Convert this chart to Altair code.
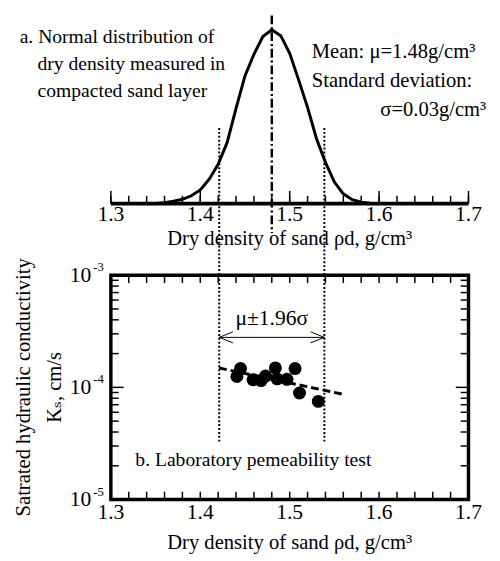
import altair as alt
import pandas as pd

FONT = "Liberation Serif, Times New Roman, Tinos, DejaVu Serif, serif"

# ---- data ----
rho_grid = [1.34, 1.35, 1.36, 1.37, 1.38, 1.39, 1.40, 1.41, 1.42, 1.43, 1.44, 1.45, 1.46,
            1.47, 1.48, 1.49, 1.50, 1.51, 1.52, 1.53, 1.54, 1.55, 1.56, 1.57, 1.58, 1.59, 1.60]
pdf_vals = [0.0, 0.02, 0.06, 0.16, 0.29, 0.52, 0.91, 1.62, 2.6, 4.03, 6.3, 8.44, 9.87,
            11.04, 11.49, 11.1, 9.94, 8.18, 6.36, 4.29, 2.73, 1.43, 0.65, 0.26, 0.1, 0.03, 0.0]

mu = 1.48
ci_lo = 1.4212
ci_hi = 1.5388

lab_rho = [1.445, 1.441, 1.459, 1.468, 1.473, 1.484, 1.486, 1.497, 1.506, 1.511, 1.532]
lab_ks = [1.47e-4, 1.25e-4, 1.17e-4, 1.15e-4, 1.26e-4, 1.49e-4, 1.19e-4, 1.18e-4, 1.47e-4, 0.89e-4, 0.75e-4]

trend_rho = [1.421, 1.559]
trend_ks = [1.49e-4, 0.87e-4]

x_major = [1.3, 1.4, 1.5, 1.6, 1.7]
x_labels = ["1.3", "1.4", "1.5", "1.6", "1.7"]
x_minor = [1.30, 1.32, 1.34, 1.36, 1.38, 1.40, 1.42, 1.44, 1.46, 1.48, 1.50,
           1.52, 1.54, 1.56, 1.58, 1.60, 1.62, 1.64, 1.66, 1.68, 1.70]
y_major = [1e-5, 1e-4, 1e-3]
y_label_base = ["10", "10", "10"]
y_label_exp = ["-5", "-4", "-3"]
y_minor = [2e-5, 3e-5, 4e-5, 5e-5, 6e-5, 7e-5, 8e-5, 9e-5,
           2e-4, 3e-4, 4e-4, 5e-4, 6e-4, 7e-4, 8e-4, 9e-4]

X_TITLE = "Dry density of sand ρd, g/cm³"
Y_TITLE = ["Satrated hydraulic conductivity", "Kₛ, cm/s"]

# ---- layout ----
W = 365
H1 = 192
H2 = 229
YTOP = 12.43
X0, X1 = 1.3, 1.7
L0, L1 = -5.0, -3.0  # log10 of the K axis range

xs = alt.Scale(domain=[X0, X1], nice=False, zero=False)
ys1 = alt.Scale(domain=[0, YTOP], nice=False, zero=False)
ys2 = alt.Scale(type="log", domain=[10 ** L0, 10 ** L1], nice=False)

NOAX = None


def px_to_x(px):
    return px * (X1 - X0) / W


def top_y(px):
    return px * YTOP / H1


def log_y(px):
    return px * (L1 - L0) / H2


def xtick_layer(values, yscale, ya, yb, width=1.5):
    n = len(values)
    df = pd.DataFrame({"tv": values, "ta": [ya] * n, "tb": [yb] * n})
    return alt.Chart(df).mark_rule(color="black", strokeWidth=width).encode(
        x=alt.X("tv:Q", scale=xs, axis=NOAX),
        y=alt.Y("ta:Q", scale=yscale, axis=NOAX),
        y2="tb:Q",
    )


def ytick_layer(values, xa, xb, width=1.5):
    n = len(values)
    df = pd.DataFrame({"tv": values, "ta": [xa] * n, "tb": [xb] * n})
    return alt.Chart(df).mark_rule(color="black", strokeWidth=width).encode(
        y=alt.Y("tv:Q", scale=ys2, axis=NOAX),
        x=alt.X("ta:Q", scale=xs, axis=NOAX),
        x2="tb:Q",
    )


def xlabels(y_px):
    return alt.Chart(pd.DataFrame({"v": x_major, "t": x_labels})).mark_text(
        font=FONT, fontSize=22, align="center", baseline="alphabetic", color="black"
    ).encode(x=alt.X("v:Q", scale=xs, axis=NOAX), y=alt.value(y_px), text="t:N")


def xtitle(y_px):
    return alt.Chart(pd.DataFrame({"t": [X_TITLE]})).mark_text(
        font=FONT, fontSize=21, align="center", baseline="alphabetic", color="black"
    ).encode(x=alt.value(W / 2), y=alt.value(y_px), text="t:N")


# ---------------- top panel ----------------
df_curve = pd.DataFrame({"rho": rho_grid, "pdf": pdf_vals})

curve = alt.Chart(df_curve).mark_line(color="black", strokeWidth=3).encode(
    x=alt.X("rho:Q", scale=xs, axis=NOAX),
    y=alt.Y("pdf:Q", scale=ys1, axis=NOAX),
)

baseline = alt.Chart(pd.DataFrame({"x": [X0], "x2": [X1], "y": [0.0]})).mark_rule(
    color="black", strokeWidth=4
).encode(
    x=alt.X("x:Q", scale=xs, axis=NOAX), x2="x2:Q",
    y=alt.Y("y:Q", scale=ys1, axis=NOAX),
)

mean_rule = alt.Chart(pd.DataFrame({"x": [mu], "y": [YTOP], "y2": [-top_y(30)]})).mark_rule(
    color="black", strokeWidth=2.5, strokeDash=[9, 3, 2, 3]
).encode(
    x=alt.X("x:Q", scale=xs, axis=NOAX),
    y=alt.Y("y:Q", scale=ys1, axis=NOAX),
    y2="y2:Q",
)

ci_top = alt.Chart(pd.DataFrame({"x": [ci_lo, ci_hi], "y": [5.0, 5.0], "y2": [-top_y(73), -top_y(73)]})).mark_rule(
    color="black", strokeWidth=2, strokeDash=[2, 2]
).encode(
    x=alt.X("x:Q", scale=xs, axis=NOAX),
    y=alt.Y("y:Q", scale=ys1, axis=NOAX),
    y2="y2:Q",
)

left_text = pd.DataFrame({
    "t": ["a. Normal distribution of", "dry density measured in", "compacted sand layer"],
    "x": [1.198, 1.218, 1.218],
    "y": [11.01, 9.197, 7.448],
})
right_text = pd.DataFrame({
    "t": ["Mean: μ=1.48g/cm³", "Standard deviation:", "σ=0.03g/cm³"],
    "x": [1.5247, 1.5247, 1.6014],
    "y": [10.04, 8.096, 6.153],
})
left_labels = alt.Chart(left_text).mark_text(
    font=FONT, fontSize=20, align="left", baseline="middle", color="black"
).encode(
    x=alt.X("x:Q", scale=xs, axis=NOAX),
    y=alt.Y("y:Q", scale=ys1, axis=NOAX),
    text="t:N",
)
right_labels = alt.Chart(right_text).mark_text(
    font=FONT, fontSize=21, align="left", baseline="middle", color="black"
).encode(
    x=alt.X("x:Q", scale=xs, axis=NOAX),
    y=alt.Y("y:Q", scale=ys1, axis=NOAX),
    text="t:N",
)

top = alt.layer(
    curve, baseline, mean_rule, ci_top, left_labels, right_labels,
    xlabels(H1 + 18), xtitle(H1 + 42),
    xtick_layer(x_minor, ys1, 0.0, top_y(8)),
    xtick_layer(x_major, ys1, 0.0, top_y(13)),
).properties(width=W, height=H1)

# ---------------- bottom panel ----------------
df_lab = pd.DataFrame({"rho": lab_rho, "ks": lab_ks})
pts = alt.Chart(df_lab).mark_circle(color="black", size=175, opacity=1).encode(
    x=alt.X("rho:Q", scale=xs, axis=NOAX),
    y=alt.Y("ks:Q", scale=ys2, axis=NOAX),
)

df_trend = pd.DataFrame({"rho": trend_rho, "ks": trend_ks})
trend = alt.Chart(df_trend).mark_line(color="black", strokeWidth=3, strokeDash=[8, 4]).encode(
    x=alt.X("rho:Q", scale=xs, axis=NOAX),
    y=alt.Y("ks:Q", scale=ys2, axis=NOAX),
)

ci_bot = alt.Chart(pd.DataFrame({"x": [ci_lo, ci_hi], "y": [1e-3, 1e-3], "y2": [3.3e-5, 3.3e-5]})).mark_rule(
    color="black", strokeWidth=2, strokeDash=[2, 2]
).encode(
    x=alt.X("x:Q", scale=xs, axis=NOAX),
    y=alt.Y("y:Q", scale=ys2, axis=NOAX),
    y2="y2:Q",
)

ARROW_Y = 2.79e-4
arrow_line = alt.Chart(pd.DataFrame({"x": [ci_lo], "x2": [ci_hi], "y": [ARROW_Y]})).mark_rule(
    color="black", strokeWidth=1
).encode(
    x=alt.X("x:Q", scale=xs, axis=NOAX),
    x2="x2:Q",
    y=alt.Y("y:Q", scale=ys2, axis=NOAX),
)

head_l = alt.Chart(pd.DataFrame({"x": [ci_lo], "y": [ARROW_Y]})).mark_point(
    shape="M 2 -0.8 L 0 0 L 2 0.8", size=196, color="black", strokeWidth=1, opacity=1, filled=False
).encode(
    x=alt.X("x:Q", scale=xs, axis=NOAX),
    y=alt.Y("y:Q", scale=ys2, axis=NOAX),
)
head_r = alt.Chart(pd.DataFrame({"x": [ci_hi], "y": [ARROW_Y]})).mark_point(
    shape="M -2 -0.8 L 0 0 L -2 0.8", size=196, color="black", strokeWidth=1, opacity=1, filled=False
).encode(
    x=alt.X("x:Q", scale=xs, axis=NOAX),
    y=alt.Y("y:Q", scale=ys2, axis=NOAX),
)

ci_label = alt.Chart(pd.DataFrame({"t": ["μ±1.96σ"], "x": [mu], "y": [4.17e-4]})).mark_text(
    font=FONT, fontSize=22, align="center", baseline="middle", color="black"
).encode(
    x=alt.X("x:Q", scale=xs, axis=NOAX),
    y=alt.Y("y:Q", scale=ys2, axis=NOAX),
    text="t:N",
)

b_label = alt.Chart(pd.DataFrame({"t": ["b. Laboratory pemeability test"], "x": [1.3274], "y": [2.26e-5]})).mark_text(
    font=FONT, fontSize=20, align="left", baseline="middle", color="black"
).encode(
    x=alt.X("x:Q", scale=xs, axis=NOAX),
    y=alt.Y("y:Q", scale=ys2, axis=NOAX),
    text="t:N",
)

df_ylab = pd.DataFrame({"v": y_major, "b": y_label_base, "e": y_label_exp})
ylab_base = alt.Chart(df_ylab).mark_text(
    font=FONT, fontSize=22, align="right", baseline="middle", color="black"
).encode(y=alt.Y("v:Q", scale=ys2, axis=NOAX), x=alt.value(-20), text="b:N")
ylab_exp = alt.Chart(df_ylab).mark_text(
    font=FONT, fontSize=13, align="left", baseline="middle", color="black", dy=-8
).encode(y=alt.Y("v:Q", scale=ys2, axis=NOAX), x=alt.value(-18), text="e:N")

ytitle1 = alt.Chart(pd.DataFrame({"t": [Y_TITLE[0]]})).mark_text(
    font=FONT, fontSize=21, align="center", baseline="middle", color="black", angle=270
).encode(x=alt.value(-89), y=alt.value(H2 / 2), text="t:N")
ytitle2 = alt.Chart(pd.DataFrame({"t": [Y_TITLE[1]]})).mark_text(
    font=FONT, fontSize=21, align="center", baseline="middle", color="black", angle=270
).encode(x=alt.value(-57), y=alt.value(H2 / 2), text="t:N")

k_lo, k_hi = 10 ** L0, 10 ** L1
bottom = alt.layer(
    pts, trend, ci_bot, arrow_line, head_l, head_r, ci_label, b_label,
    xlabels(H2 + 20), xtitle(H2 + 50), ylab_base, ylab_exp, ytitle1, ytitle2,
    xtick_layer(x_minor, ys2, k_lo, 10 ** (L0 + log_y(8))),
    xtick_layer(x_minor, ys2, k_hi, 10 ** (L1 - log_y(8))),
    ytick_layer(y_minor, X0, X0 + px_to_x(8)),
    ytick_layer(y_major, X0, X0 + px_to_x(13)),
    ytick_layer(y_minor, X1, X1 - px_to_x(8)),
    ytick_layer(y_major, X1, X1 - px_to_x(13)),
).properties(
    width=W, height=H2, view=alt.ViewBackground(stroke="black", strokeWidth=3.5, fill="white")
)

chart = alt.vconcat(top, bottom, spacing=73, bounds="flush").properties(
    padding={"left": 3, "top": 0, "right": 5, "bottom": 0},
    background="white",
).configure_view(stroke="transparent")

chart.save("out.html", embed_options={"renderer": "svg", "actions": False})
